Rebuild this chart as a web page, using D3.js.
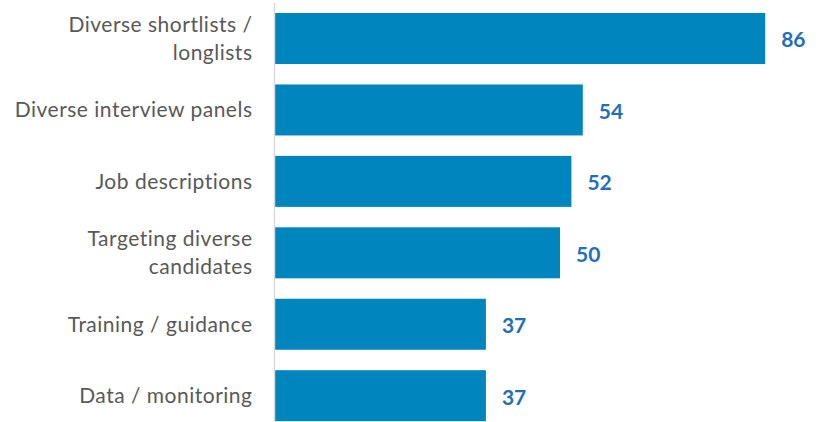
<!DOCTYPE html>
<html>
<head>
<meta charset="utf-8">
<script src="https://cdn.jsdelivr.net/npm/d3@7"></script>
<style>
  html, body { margin: 0; padding: 0; background: #fff; }
  svg { display: block; }
</style>
</head>
<body>
<svg id="chart" width="818" height="422"></svg>
<script>
// Measures named in recruitment practice, with counts
const categories = [
  ["Diverse shortlists /", "longlists"],
  ["Diverse interview panels"],
  ["Job descriptions"],
  ["Targeting diverse", "candidates"],
  ["Training / guidance"],
  ["Data / monitoring"]
];
const values = [86, 54, 52, 50, 37, 37];

const svg = d3.select("#chart");
const fontFamily = "Lato, 'Open Sans', sans-serif";

const x = d3.scaleLinear().domain([0, 100]).range([275, 845]);
const y = d3.scaleBand()
  .domain(d3.range(categories.length))
  .range([2.8, 431.4])
  .paddingInner(0.286)
  .paddingOuter(0.143);

// bars
svg.selectAll("rect.bar")
  .data(values)
  .join("rect")
  .attr("class", "bar")
  .attr("x", x(0))
  .attr("y", (d, i) => y(i))
  .attr("width", d => x(d) - x(0))
  .attr("height", y.bandwidth())
  .attr("fill", "#0085BF");

// category axis line
svg.append("line")
  .attr("x1", x(0) - 0.5).attr("x2", x(0) - 0.5)
  .attr("y1", 3).attr("y2", 422)
  .attr("stroke", "#d9d9d9")
  .attr("stroke-width", 1.5);

// category labels
const lineGap = 28;
const labels = svg.selectAll("text.cat")
  .data(categories)
  .join("text")
  .attr("class", "cat")
  .attr("text-anchor", "end")
  .attr("font-family", fontFamily)
  .attr("font-size", 21)
  .attr("letter-spacing", 0.5)
  .attr("fill", "#595959")
  .attr("transform", (d, i) => `translate(252.5, ${y(i) + y.bandwidth() / 2})`);

labels.selectAll("tspan")
  .data(d => d.map((t, k) => ({ t, k, n: d.length })))
  .join("tspan")
  .attr("x", 0)
  .attr("y", d => (d.k - (d.n - 1) / 2) * lineGap)
  .attr("dy", "0.35em")
  .text(d => d.t);

// value labels
svg.selectAll("text.val")
  .data(values)
  .join("text")
  .attr("class", "val")
  .attr("x", d => x(d) + 16)
  .attr("y", (d, i) => y(i) + y.bandwidth() / 2)
  .attr("dy", "0.42em")
  .attr("font-family", fontFamily)
  .attr("font-size", 21)
  .attr("font-weight", "bold")
  .attr("fill", "#1F6FBF")
  .text(d => d);
</script>
</body>
</html>
